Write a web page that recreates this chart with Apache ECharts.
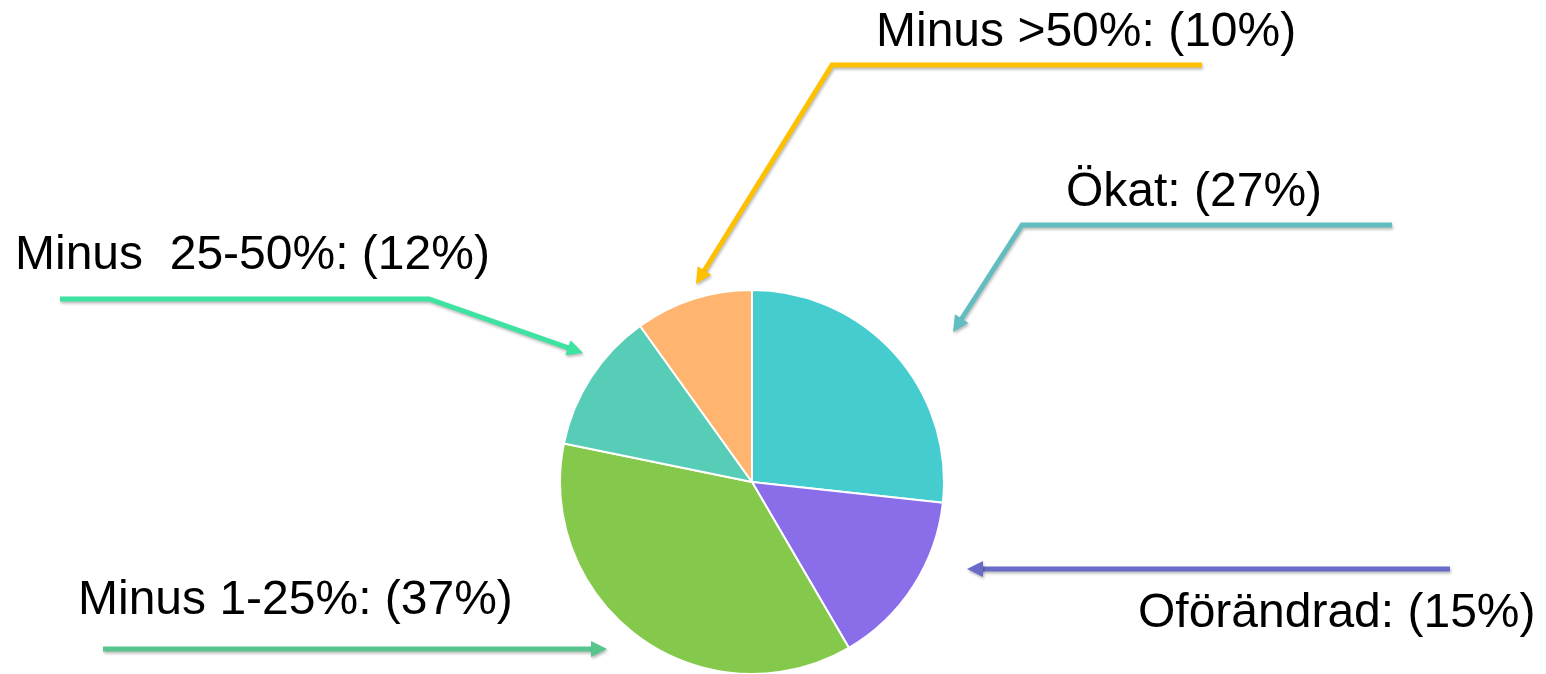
<!DOCTYPE html>
<html>
<head>
<meta charset="utf-8">
<script src="https://cdn.jsdelivr.net/npm/echarts@6/dist/echarts.min.js"></script>
<style>
html,body{margin:0;padding:0;background:#fff;}
#chart{width:1546px;height:674px;}
</style>
</head>
<body>
<div id="chart"></div>
<script>
// Data
const categories = ['Ökat', 'Oförändrad', 'Minus 1-25%', 'Minus  25-50%', 'Minus >50%'];
const percentages = [27, 15, 37, 12, 10];
const sliceColors = ['#45CCCE', '#8A6DE9', '#85C94C', '#57CDB8', '#FFB470'];
const arrowColors = ['#62BDC1', '#6A6BC8', '#58C48E', '#3DE3A0', '#FFC000'];

// Annotation layout (label anchor: left x, middle y) and arrow paths
const labelPos = [[1066, 193], [1138, 614], [78, 601], [15, 256], [876, 33]];
const arrowPaths = [
  [[1392, 225], [1022, 225], [953, 332]],
  [[1450, 569], [967, 569]],
  [[103, 649], [607, 649]],
  [[60, 299], [429, 299], [583, 353]],
  [[1202, 65], [832, 65], [696, 284]]
];

const chart = echarts.init(document.getElementById('chart'), null, {renderer: 'canvas'});

function arrowGraphics(path, color) {
  const n = path.length;
  const tip = path[n - 1], prev = path[n - 2];
  const dx = tip[0] - prev[0], dy = tip[1] - prev[1];
  const len = Math.sqrt(dx * dx + dy * dy);
  const ux = dx / len, uy = dy / len;
  const headLen = 16, headW = 8;
  const base = [tip[0] - ux * headLen, tip[1] - uy * headLen];
  const linePts = path.slice(0, n - 1).concat([[base[0] + ux * 2, base[1] + uy * 2]]);
  const shadow = {shadowBlur: 3, shadowColor: 'rgba(0,0,0,0.28)', shadowOffsetX: 1, shadowOffsetY: 2};
  return [
    {
      type: 'polyline',
      shape: {points: linePts},
      style: Object.assign({stroke: color, lineWidth: 4.8, fill: null, lineJoin: 'miter'}, shadow),
      z: 10
    },
    {
      type: 'polygon',
      shape: {points: [tip, [base[0] - uy * headW, base[1] + ux * headW], [base[0] + uy * headW, base[1] - ux * headW]]},
      style: Object.assign({fill: color}, shadow),
      z: 10
    }
  ];
}

let graphics = [];
arrowPaths.forEach((p, i) => { graphics = graphics.concat(arrowGraphics(p, arrowColors[i])); });

const option = {
  backgroundColor: '#ffffff',
  animation: false,
  graphic: graphics,
  series: [{
    type: 'pie',
    center: [752, 482],
    radius: 192,
    startAngle: 90,
    clockwise: true,
    avoidLabelOverlap: false,
    itemStyle: {borderColor: '#ffffff', borderWidth: 2},
    label: {
      show: true,
      position: 'outside',
      formatter: p => p.name + ': (' + p.value + '%)',
      fontSize: 48,
      fontFamily: 'Liberation Sans, Arial, sans-serif',
      color: '#000000'
    },
    labelLine: {show: false},
    labelLayout: function (params) {
      const pos = labelPos[params.dataIndex];
      return {x: pos[0], y: pos[1], align: 'left', verticalAlign: 'middle', hideOverlap: false};
    },
    emphasis: {disabled: true},
    data: categories.map((c, i) => ({name: c, value: percentages[i], itemStyle: {color: sliceColors[i]}}))
  }]
};
chart.setOption(option);
</script>
</body>
</html>
